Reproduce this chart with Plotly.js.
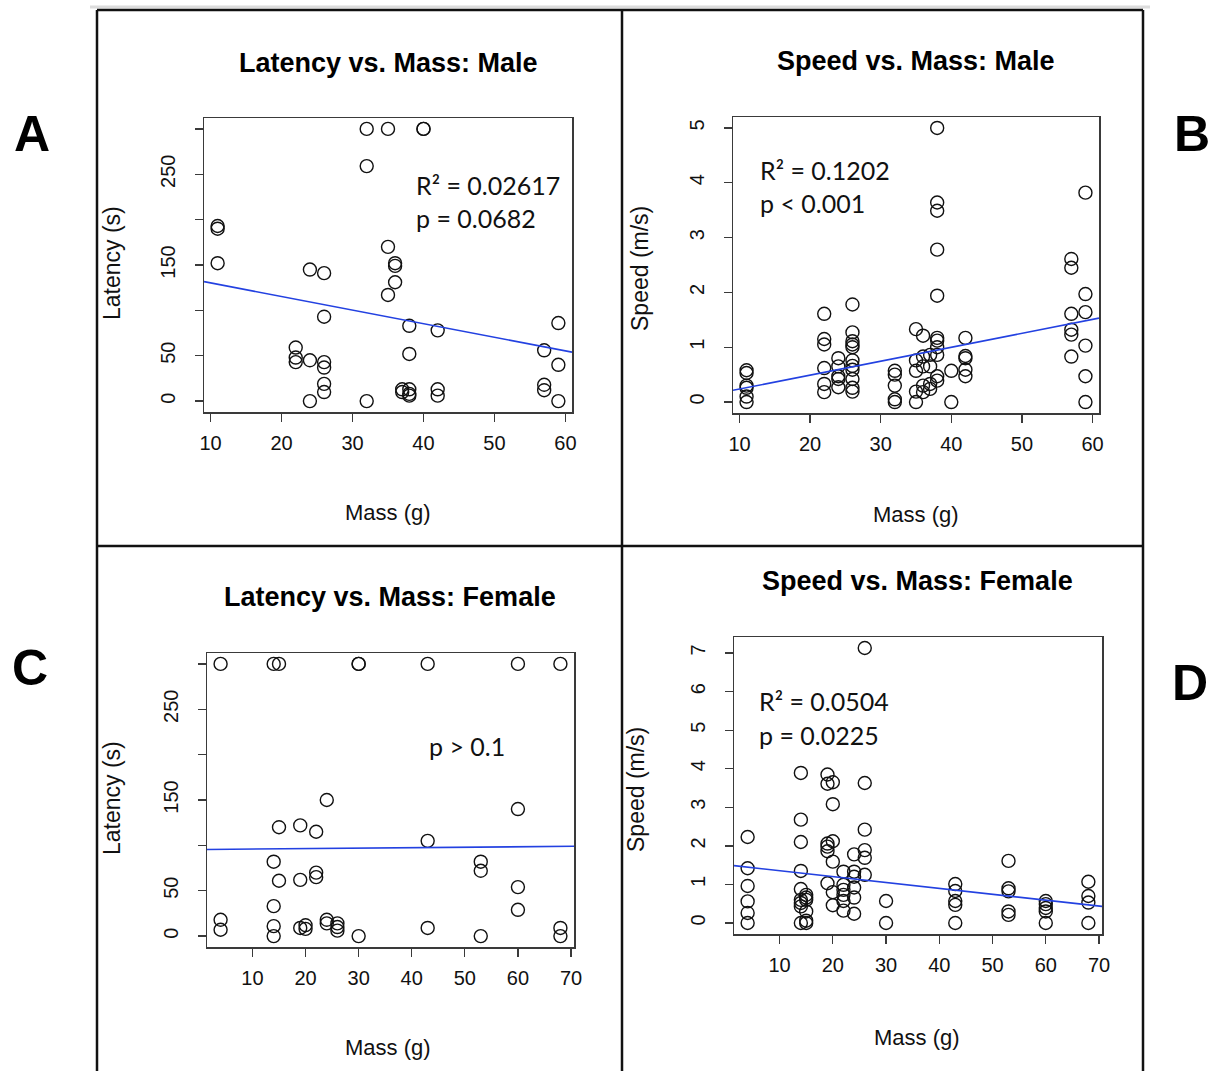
<!DOCTYPE html>
<html><head><meta charset="utf-8">
<script src="https://cdn.plot.ly/plotly-3.0.1.min.js"></script>
<style>html,body{margin:0;padding:0;background:#fff}#chart{width:1212px;height:1071px}</style>
</head><body><div id="chart"></div>
<script>
// ---------- Data ----------
// A: Latency vs. Mass, Male
const massA = [11,11,11,32,35,32,24,26,26,22,22,22,24,26,26,26,26,24,32,35,36,36,36,35,40,40,38,42,38,37,37,38,38,38,42,42,59,57,59,57,57,59];
const latA  = [193,190,152,300,300,259,145,141,93,59,48,43,45,43,37,19,10,0,0,170,152,149,131,117,300,300,83,78,52,13,10,13,8,6,13,6,86,56,40,18,12,0];
const fitA = {intercept: 145.3, slope: -1.5};
const statsA = ["R² = 0.02617", "p = 0.0682"];

// B: Speed vs. Mass, Male
const massB = [11,11,11,11,11,11, 22,22,22,22,22,22, 24,24,24,24,24,
  26,26,26,26,26,26,26,26,26,26,26, 32,32,32,32,32, 35,35,35,35,35,
  36,36,36,36,36, 37,37,37,37, 38,38,38,38,38,38,38,38,38,38,38,
  40,40, 42,42,42,42,42, 57,57,57,57,57,57, 59,59,59,59,59,59];
const speedB = [0.58,0.53,0.30,0.26,0.10,0.00, 1.61,1.15,1.05,0.62,0.33,0.18, 0.80,0.65,0.47,0.42,0.27,
  1.78,1.27,1.11,1.05,1.00,0.76,0.66,0.59,0.42,0.26,0.19, 0.57,0.50,0.30,0.05,0.00, 1.33,0.76,0.57,0.19,0.00,
  1.21,0.83,0.65,0.30,0.18, 0.86,0.65,0.33,0.24, 5.00,3.64,3.49,2.78,1.94,1.17,1.12,1.00,0.86,0.47,0.39,
  0.57,0.00, 1.17,0.84,0.80,0.59,0.47, 2.61,2.45,1.61,1.32,1.23,0.83, 3.82,1.97,1.64,1.03,0.47,0.00];
const fitB = {intercept: -0.017, slope: 0.0254};
const statsB = ["R² = 0.1202", "p < 0.001"];

// C: Latency vs. Mass, Female
const massC = [4,4,4, 14,14,14,14,14, 15,15,15, 19,19,19, 20,20, 22,22,22, 24,24,24, 26,26,26, 30,30,30, 43,43,43, 53,53,53, 60,60,60,60, 68,68,68];
const latC  = [300,18,7, 300,82,33,11,0, 300,120,61, 122,62,9, 12,8, 115,70,65, 150,18,14, 14,10,6, 300,300,0, 300,105,9, 82,72,0, 300,140,54,29, 300,9,0];
const fitC = {intercept: 95.4, slope: 0.0506};
const statsC = ["p > 0.1"];

// D: Speed vs. Mass, Female
const massD = [4,4,4,4,4,4, 14,14,14,14,14,14,14,14,14, 15,15,15,15,15,15, 19,19,19,19,19,19,
  20,20,20,20,20,20, 22,22,22,22,22,22, 24,24,24,24,24,24, 26,26,26,26,26,26, 30,30,
  43,43,43,43,43, 53,53,53,53,53, 60,60,60,60,60, 68,68,68,68];
const speedD = [2.23,1.42,0.96,0.56,0.26,0.00, 3.89,2.68,2.10,1.35,0.88,0.60,0.52,0.43,0.00, 0.73,0.66,0.60,0.30,0.06,0.00, 3.85,3.61,2.06,1.98,1.86,1.03,
  3.65,3.08,2.12,1.59,0.80,0.46, 1.33,0.99,0.86,0.73,0.57,0.32, 1.78,1.33,1.20,0.92,0.66,0.24, 7.13,3.63,2.42,1.89,1.69,1.25, 0.57,0.00,
  1.01,0.83,0.57,0.47,0.00, 1.61,0.90,0.82,0.30,0.21, 0.57,0.49,0.39,0.30,0.00, 1.07,0.70,0.53,0.00];
const fitD = {intercept: 1.51, slope: -0.0153};
const statsD = ["R² = 0.0504", "p = 0.0225"];

const titles = ["Latency vs. Mass: Male", "Speed vs. Mass: Male", "Latency vs. Mass: Female", "Speed vs. Mass: Female"];
const yTitles = ["Latency (s)", "Speed (m/s)", "Latency (s)", "Speed (m/s)"];
const xTitle = "Mass (g)";
const panelLetters = ["A", "B", "C", "D"];
const xTicksMale = [10,20,30,40,50,60];
const xTicksFemale = [10,20,30,40,50,60,70];
const latLabelledTicks = [0,50,150,250];   // labelled latency ticks
const latUnlabelledTicks = [100,200,300]; // ticks drawn without a label
const speedTicksMale = [0,1,2,3,4,5];
const speedTicksFemale = [0,1,2,3,4,5,6,7];

// ---------- Helpers ----------
const W = 1212, H = 1071;
const px = x => x / W;
const py = y => 1 - y / H;
function rRange(a) { // R's default 4% axis extension
  const mn = Math.min(...a), mx = Math.max(...a), d = mx - mn;
  return [mn - 0.04 * d, mx + 0.04 * d];
}
const FONT = "Liberation Sans, Arial, Helvetica, sans-serif";
const STATFONT = "Lato, Carlito, Calibri, sans-serif";

const panels = [
  {x: massA, y: latA, fit: fitA, dom: {x: [204, 572], y: [118, 412]}, xt: xTicksMale, yv: latLabelledTicks, ym: latUnlabelledTicks},
  {x: massB, y: speedB, fit: fitB, dom: {x: [733, 1099], y: [117, 413]}, xt: xTicksMale, yv: speedTicksMale, ym: null},
  {x: massC, y: latC, fit: fitC, dom: {x: [207, 574], y: [653, 947]}, xt: xTicksFemale, yv: latLabelledTicks, ym: latUnlabelledTicks},
  {x: massD, y: speedD, fit: fitD, dom: {x: [734, 1102], y: [637, 934]}, xt: xTicksFemale, yv: speedTicksFemale, ym: null}
];

const data = [];
const layout = {
  width: W, height: H, margin: {l: 0, r: 0, t: 0, b: 0},
  paper_bgcolor: "#fff", plot_bgcolor: "#fff", showlegend: false,
  annotations: [], shapes: []
};

panels.forEach((p, i) => {
  const n = i === 0 ? "" : String(i + 1);
  const xr = rRange(p.x), yr = rRange(p.y);
  data.push({
    type: "scatter", mode: "markers", x: p.x, y: p.y, xaxis: "x" + n, yaxis: "y" + n,
    marker: {symbol: "circle-open", size: 13, color: "#111", line: {width: 1.4, color: "#111"}},
    hoverinfo: "x+y"
  });
  data.push({
    type: "scatter", mode: "lines", x: xr, y: xr.map(v => p.fit.intercept + p.fit.slope * v),
    xaxis: "x" + n, yaxis: "y" + n, line: {color: "rgb(35,65,225)", width: 1.6}, hoverinfo: "skip"
  });
  const common = {
    showgrid: false, zeroline: false, showline: true, mirror: true, linecolor: "#3a3a3a", linewidth: 1.5,
    ticks: "outside", ticklen: 8, tickwidth: 1.3, tickcolor: "#3a3a3a",
    tickfont: {family: FONT, size: 20, color: "#111"}
  };
  layout["xaxis" + n] = Object.assign({}, common, {
    domain: [px(p.dom.x[0]), px(p.dom.x[1])], range: xr, anchor: "y" + n,
    tickmode: "array", tickvals: p.xt, ticktext: p.xt.map(String), ticklabelstandoff: 4
  });
  const ya = Object.assign({}, common, {
    domain: [py(p.dom.y[1]), py(p.dom.y[0])], range: yr, anchor: "x" + n,
    tickmode: "array", tickvals: p.yv, ticktext: p.yv.map(String), tickangle: -90, ticklabelstandoff: 12
  });
  if (p.ym) {
    ya.minor = {tickmode: "array", tickvals: p.ym, ticks: "outside", ticklen: 8, tickwidth: 1.3, tickcolor: "#3a3a3a", showgrid: false};
  }
  layout["yaxis" + n] = ya;
});

// Titles, axis titles, statistics, panel letters
const titlePos = [[388, 63], [916, 61], [390, 597], [917, 581]];
const yTitlePos = [[112, 263], [640, 268], [112, 798], [636, 790]];
const xTitlePos = [[388, 512], [916, 514], [388, 1047], [917, 1037]];
const statPos = [[414, 185, 218], [758, 170, 203], [427, 746, null], [757, 701, 735]];
const letterPos = [[32, 134], [1192, 134], [30, 668], [1190, 683]];
const stats = [statsA, statsB, statsC, statsD];

titles.forEach((t, i) => {
  layout.annotations.push({xref: "paper", yref: "paper", x: px(titlePos[i][0]), y: py(titlePos[i][1]),
    text: "<b>" + t + "</b>", showarrow: false, xanchor: "center", yanchor: "middle",
    font: {family: FONT, size: 27, color: "#000"}});
  layout.annotations.push({xref: "paper", yref: "paper", x: px(yTitlePos[i][0]), y: py(yTitlePos[i][1]),
    text: yTitles[i], showarrow: false, textangle: -90, xanchor: "center", yanchor: "middle",
    font: {family: FONT, size: 23, color: "#111"}});
  layout.annotations.push({xref: "paper", yref: "paper", x: px(xTitlePos[i][0]), y: py(xTitlePos[i][1]),
    text: xTitle, showarrow: false, xanchor: "center", yanchor: "middle",
    font: {family: FONT, size: 22, color: "#111"}});
  stats[i].forEach((s, k) => {
    layout.annotations.push({xref: "paper", yref: "paper", x: px(statPos[i][0]), y: py(statPos[i][1 + k]),
      text: s, showarrow: false, xanchor: "left", yanchor: "middle",
      font: {family: STATFONT, size: 25, color: "#111"}});
  });
  layout.annotations.push({xref: "paper", yref: "paper", x: px(letterPos[i][0]), y: py(letterPos[i][1]),
    text: "<b>" + panelLetters[i] + "</b>", showarrow: false, xanchor: "center", yanchor: "middle",
    font: {family: FONT, size: 50, color: "#000"}});
});

// Panel frame lines
const frameLine = (x0, y0, x1, y1, c, w) => ({type: "line", xref: "paper", yref: "paper",
  x0: px(x0), y0: py(y0), x1: px(x1), y1: py(y1), line: {color: c, width: w}});
layout.shapes.push(frameLine(90, 7, 1150, 7, "#dcdcdc", 3));
layout.shapes.push(frameLine(97, 10, 1143, 10, "#111", 2.5));
layout.shapes.push(frameLine(97, 546, 1143, 546, "#111", 2.5));
layout.shapes.push(frameLine(97, 10, 97, 1071, "#111", 2.5));
layout.shapes.push(frameLine(622, 10, 622, 1071, "#111", 2.5));
layout.shapes.push(frameLine(1143, 10, 1143, 1071, "#111", 2.5));

Plotly.newPlot("chart", data, layout, {displayModeBar: false, staticPlot: true});
</script></body></html>
